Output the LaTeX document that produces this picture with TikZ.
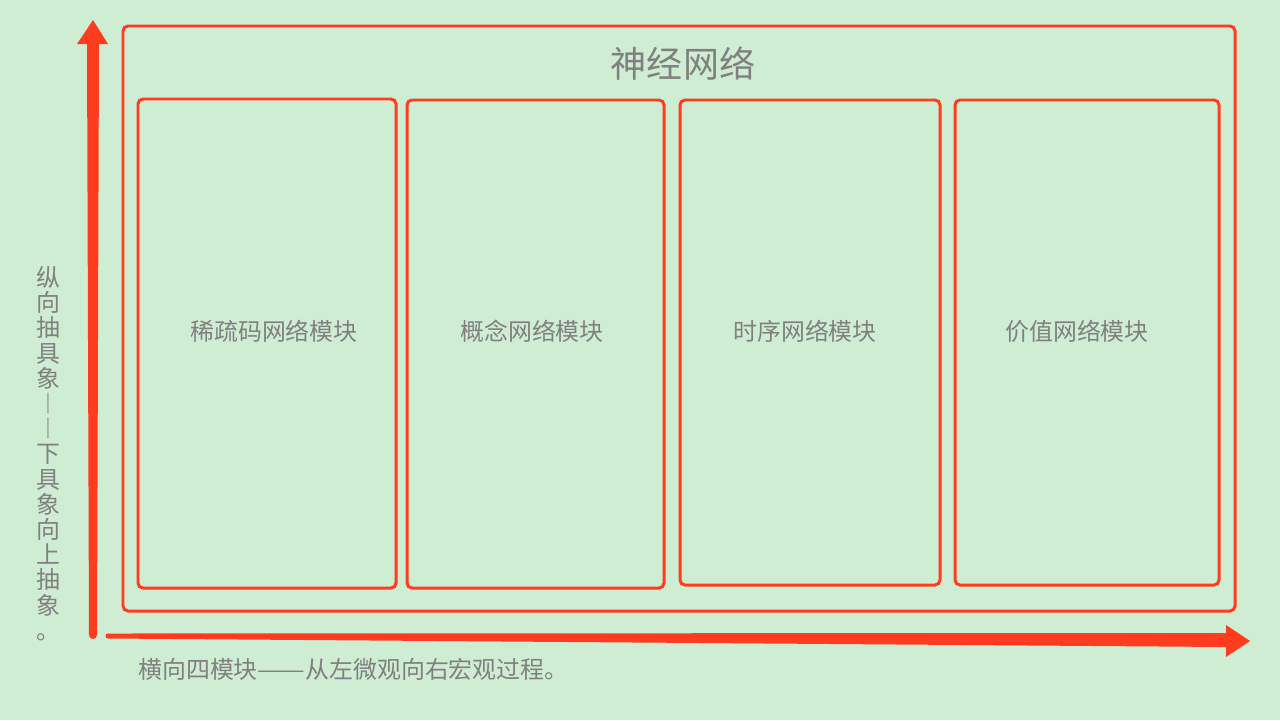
\documentclass[tikz,border=0pt]{standalone}
\usepackage{fontspec}
\setmainfont{Noto Sans CJK SC}
\definecolor{bggreen}{RGB}{207,237,211}
\definecolor{linered}{RGB}{255,61,30}
\definecolor{textgrey}{RGB}{128,128,128}
\tikzset{
  modbox/.style={draw=linered,line width=1.7pt,rounded corners=0.1cm},
  lbl/.style={text=textgrey,inner sep=0pt,font=\fontsize{13.6}{13.66}\selectfont}
}

\begin{document}
\begin{tikzpicture}[x=0.02cm,y=-0.02cm]
  \fill[bggreen] (0,0) rectangle (1280,720);
  \useasboundingbox (0,0) rectangle (1280,720);
  % outer frame
  \draw[modbox] (123,26) rectangle (1235,611);
  \node[lbl,font=\fontsize{20.5}{24}\selectfont] (title) at (683,64) {神经网络};
  % four modules
  \draw[modbox] (138,99) rectangle (396,588);
  \draw[modbox] (407,100) rectangle (664,588);
  \draw[modbox] (680,100) rectangle (940,585);
  \draw[modbox] (955,100) rectangle (1219,585);
  \node[lbl] (sparse) at (274,331) {稀疏码网络模块};
  \node[lbl] (concept) at (532,331) {概念网络模块};
  \node[lbl] (timing) at (805,331) {时序网络模块};
  \node[lbl] (value) at (1077,331) {价值网络模块};
  % axes
  \coordinate (vtail) at (93,635);
  \coordinate (vtip) at (93,20);
  \fill[linered] (89,635) -- (87,44) -- (77,44) -- (vtip) -- (108,44) -- (99,44) -- (97,635) -- cycle;
  \fill[linered] (vtail) circle (4);
  \coordinate (htail) at (108,636);
  \coordinate (htip) at (1250,641);
  \fill[linered] (108,633.5) -- (1226,633) -- (1226,625) -- (htip) -- (1226,657) -- (1226,647) -- (108,638.5) -- cycle;
  \fill[linered] (htail) circle (2.5);
  % axis texts
  \node[lbl,align=center,anchor=north,font=\fontsize{13.6}{14.35}\selectfont] (vtext) at (48,266) {纵\\向\\抽\\具\\象\\︱\\︱\\下\\具\\象\\向\\上\\抽\\象\\。};
  \node[lbl,anchor=west] (htext) at (138,669) {横向四模块\resizebox{2em}{\height}{——}从左微观向右宏观过程。};
\end{tikzpicture}
\end{document}
